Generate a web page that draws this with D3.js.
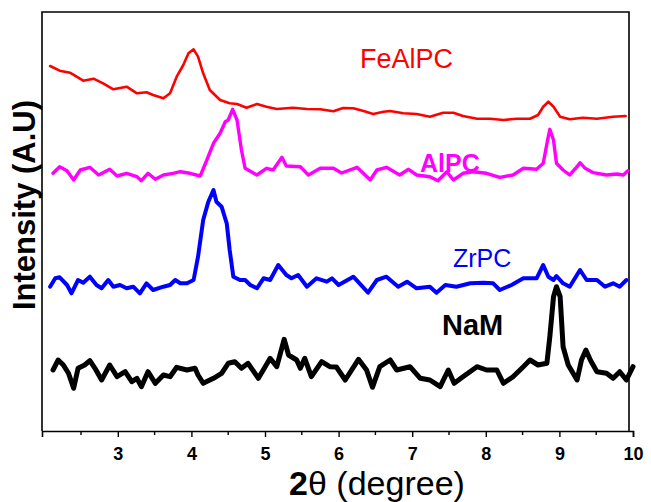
<!DOCTYPE html>
<html>
<head>
<meta charset="utf-8">
<script src="https://cdn.jsdelivr.net/npm/d3@7"></script>
<style>
html,body{margin:0;padding:0;background:#fff;}
svg{display:block;font-family:"Liberation Sans",Arial,sans-serif;}
</style>
</head>
<body>
<svg id="chart" width="651" height="502"></svg>
<script>
// ---- data (2θ in degrees, intensity in arbitrary units, offset-stacked) ----
const seriesNames = ["FeAlPC", "AlPC", "ZrPC", "NaM"];
const xTicks = [3, 4, 5, 6, 7, 8, 9, 10];

const feAlPC_x = [2.08,2.21,2.35,2.44,2.53,2.67,2.80,2.94,3.12,3.26,3.39,3.48,3.62,3.71,3.80,3.89,3.96,4.03,4.09,4.16,4.25,4.39,4.52,4.62,4.75,4.89,5.02,5.16,5.38,5.57,5.75,5.93,6.06,6.20,6.34,6.47,6.61,6.70,6.88,7.06,7.24,7.42,7.56,7.69,7.88,8.06,8.24,8.42,8.60,8.71,8.78,8.85,8.92,9.01,9.14,9.32,9.51,9.73,9.90];
const feAlPC_y = [365,360.3,358.3,354.3,350.3,352.3,347.7,341.7,344.3,337.7,338.7,336,332.7,337.7,354.3,366,377.7,381.7,374.3,357.7,341,331,327.7,327,323.3,327,324.3,322,323.3,322,321.7,319.7,323,322.7,320,317,319.3,320,317.7,317,314.3,318.3,318.3,315,312.3,312.3,311,312.3,312.3,316,324.3,329.3,324.3,314.3,311.7,313.3,312.3,314.3,315];

const alPC_x = [2.12,2.21,2.31,2.40,2.49,2.62,2.74,2.89,2.99,3.12,3.26,3.32,3.41,3.51,3.62,3.75,3.85,3.98,4.12,4.21,4.30,4.39,4.46,4.50,4.56,4.62,4.68,4.73,4.89,5.02,5.11,5.23,5.29,5.48,5.59,5.75,5.93,6.04,6.25,6.43,6.52,6.65,6.83,6.95,7.06,7.24,7.35,7.47,7.56,7.69,7.83,8.01,8.19,8.37,8.51,8.69,8.78,8.84,8.87,8.92,8.96,9.05,9.14,9.24,9.28,9.35,9.46,9.64,9.78,9.87,9.93];
const alPC_y = [257.7,264.3,260.3,251,261,263.7,256,261.7,255,257.7,254.3,250.3,257.7,251.7,256,257.7,259.3,257.7,255,271,287.7,297.7,309.3,311,321.7,311,281,262.7,256,262.7,261,273.7,265,264.3,256,262.7,262.7,258,263.7,251,261,263.7,256,261.7,256,254.3,250.3,259.3,251,257.7,259.3,257.7,253.7,256,262.7,261.7,267.7,291,301.7,291,267.7,261,256,264.3,268.3,262.7,258.3,256,257,256,260.3];

const zrPC_x = [2.08,2.15,2.21,2.31,2.37,2.46,2.53,2.62,2.71,2.78,2.87,2.94,3.03,3.12,3.21,3.30,3.39,3.48,3.62,3.71,3.78,3.85,3.94,4.03,4.09,4.16,4.23,4.30,4.34,4.41,4.48,4.52,4.57,4.66,4.73,4.80,4.89,4.98,5.07,5.18,5.29,5.36,5.45,5.57,5.70,5.84,5.91,6.00,6.20,6.40,6.52,6.65,6.81,6.93,7.06,7.24,7.33,7.45,7.60,7.79,7.97,8.10,8.19,8.35,8.51,8.69,8.78,8.85,8.92,8.96,9.05,9.14,9.28,9.37,9.51,9.62,9.73,9.82,9.91];
const zrPC_y = [144.3,152.7,153.7,146,137.7,151,148.3,154.3,146,142.7,151,144.3,146,142.7,144.3,137.7,147.7,141,144.3,146,151,147.7,147.7,151,174.3,211,229.3,241,229.3,224.3,207.7,181,154.3,151,151,146,142.7,152.7,151,166,156,152.7,156,144.3,152.7,149.3,152.7,146,154.3,138.3,151,154.3,144.3,149.3,142.7,144.3,138.3,146,144.3,147.7,148.3,147.7,141,146,152.7,152.7,166,154.3,151,155,147.7,144.3,161,151,151,144.3,147.7,144.3,151];

const naM_x = [2.12,2.19,2.26,2.33,2.40,2.46,2.55,2.62,2.69,2.78,2.89,2.99,3.10,3.19,3.26,3.32,3.41,3.51,3.62,3.71,3.80,3.94,4.05,4.09,4.16,4.30,4.41,4.50,4.59,4.68,4.77,4.91,5.07,5.16,5.26,5.32,5.43,5.48,5.54,5.63,5.77,5.88,5.97,6.09,6.27,6.38,6.46,6.56,6.70,6.79,6.97,7.11,7.24,7.38,7.49,7.57,7.69,7.88,8.01,8.15,8.24,8.37,8.51,8.60,8.71,8.83,8.87,8.92,8.96,9.01,9.05,9.12,9.24,9.30,9.36,9.42,9.51,9.64,9.73,9.82,9.91,10.00];
const naM_y = [61,71,66,57.7,42.7,62.7,66,70.3,62.7,51,66,54.3,59.3,49.3,52.7,44.3,59.3,47.7,56,54.3,63.7,61,62.7,56,47.7,52.7,57.7,67.7,69.3,62.7,67.7,52.7,72.7,64.3,91.7,76,71,62.7,72.7,54.3,69.3,64.3,64,51,71.7,61,43.7,64.3,71,61,64.3,52.7,51,44.3,61,47.7,54.3,64.3,61,61,47.7,54.3,64.3,71,66,67.7,94.3,134.3,144.3,134.3,84.3,66,51,71,81,71,59.3,57.7,52.7,59.3,51,64.3];

const seriesX = [feAlPC_x, alPC_x, zrPC_x, naM_x];
const seriesY = [feAlPC_y, alPC_y, zrPC_y, naM_y];
const colors = ["#ff0000", "#ff00ff", "#0000ff", "#000000"];
const widths = [2.6, 3.4, 4, 5];

// ---- layout ----
const svg = d3.select("#chart");
const mLeft = 42, mRight = 633, mTop = 12, mBottom = 431, frameRight = 629;

const x = d3.scaleLinear().domain([1.97, 10]).range([mLeft, mRight]);
const y = d3.scaleLinear().domain([0, 419]).range([mBottom, mTop]);

// frame
svg.append("path")
  .attr("d", `M${mLeft},${mBottom}V${mTop}H${frameRight}V${mBottom}`)
  .attr("fill", "none").attr("stroke", "#000").attr("stroke-width", 1.6);

// minor ticks
const minor = d3.range(2.5, 10, 1);
svg.append("g").selectAll("line").data(minor).join("line")
  .attr("x1", d => x(d)).attr("x2", d => x(d))
  .attr("y1", mBottom).attr("y2", mBottom + 4)
  .attr("stroke", "#000").attr("stroke-width", 1.4);

// x axis
const xAxis = svg.append("g").attr("transform", `translate(0,${mBottom})`)
  .call(d3.axisBottom(x).tickValues(xTicks).tickSize(6).tickPadding(10).tickFormat(d3.format("d")));
xAxis.select(".domain").attr("stroke-width", 1.6);
xAxis.selectAll(".tick line").attr("stroke-width", 1.4);
xAxis.selectAll("text").attr("font-family", "Liberation Sans, Arial, sans-serif")
  .attr("font-size", 18).attr("font-weight", "bold").attr("fill", "#000");

// lines
const line = d3.line().x(d => x(d[0])).y(d => y(d[1])).curve(d3.curveLinear);
seriesNames.forEach((name, i) => {
  const pts = seriesX[i].map((v, j) => [v, seriesY[i][j]]);
  svg.append("path").datum(pts)
    .attr("d", line)
    .attr("fill", "none")
    .attr("stroke", colors[i])
    .attr("stroke-width", widths[i])
    .attr("stroke-linejoin", "round")
    .attr("stroke-linecap", "round");
});

// series labels
const labelDefs = [
  {t: seriesNames[0], x: 360, y: 68, size: 27, w: "normal", c: colors[0]},
  {t: seriesNames[1], x: 420, y: 172, size: 25, w: "bold", c: colors[1]},
  {t: seriesNames[2], x: 453, y: 267, size: 25, w: "normal", c: colors[2]},
  {t: seriesNames[3], x: 442, y: 335, size: 29, w: "bold", c: colors[3]}
];
labelDefs.forEach(l => {
  svg.append("text").attr("x", l.x).attr("y", l.y)
    .attr("font-size", l.size).attr("font-weight", l.w).attr("fill", l.c).text(l.t);
});

// axis titles
const xt = svg.append("text").attr("x", 377).attr("y", 495).attr("text-anchor", "middle")
  .attr("font-size", 34).attr("fill", "#000");
xt.append("tspan").attr("font-weight", "bold").text("2");
xt.append("tspan").text("θ (degree)");

svg.append("text").attr("transform", "translate(35,205) rotate(-90)")
  .attr("text-anchor", "middle").attr("font-size", 31).attr("font-weight", "bold")
  .attr("fill", "#000").text("Intensity (A.U)");
</script>
</body>
</html>
